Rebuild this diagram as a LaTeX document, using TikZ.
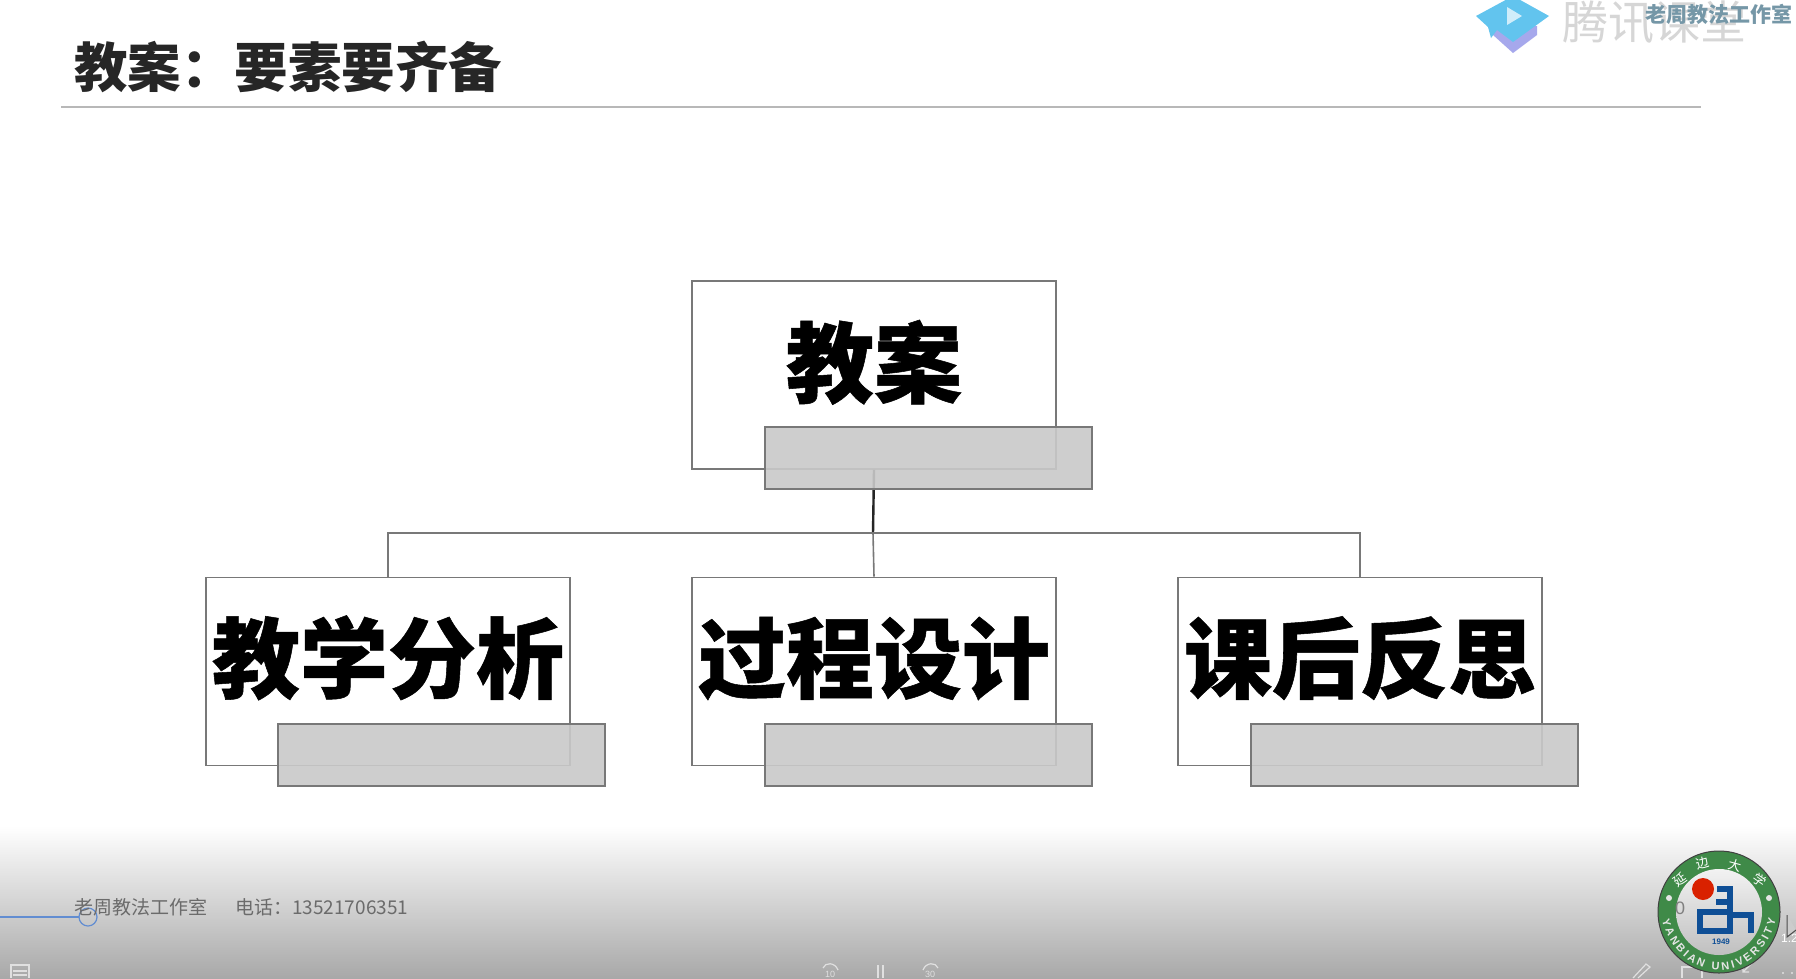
\documentclass[tikz,border=0pt]{standalone}
\usepackage{fontspec}
\usepackage{tikz}
\usetikzlibrary{decorations.text}
\newfontfamily\cjk{Noto Sans CJK SC}
\newfontfamily\cjkheavy[BoldFeatures={FakeBold=0.6}]{Noto Sans CJK SC}
\setmainfont{Liberation Sans}
\def \boxw{364pt}
\def \boxh{188pt}
\def \wide{\symbol{"FF1A}}
\definecolor{edgegray}{HTML}{787878}
\definecolor{sealgreen}{HTML}{3F8A48}
\definecolor{sealblue}{HTML}{0F4F96}
\definecolor{hatblue}{HTML}{62C4EE}
\definecolor{hatviolet}{HTML}{A6A8EC}
\tikzset{
  planbox/.style={draw=edgegray, line width=1.6pt, fill=white, inner sep=0pt, minimum width=\boxw,
    text height=115pt, text depth=73pt, font=\cjkheavy\bfseries\fontsize{88}{88}\selectfont},
  lowbox/.style={planbox, text height=114pt, text depth=74pt},
  notebox/.style={draw=edgegray, line width=2pt, fill={rgb,255:red,201;green,201;blue,201}, fill opacity=.9,
    inner sep=0pt, minimum width=327pt, minimum height=62pt},
  link/.style={draw=edgegray, line width=1.6pt},
  barmark/.style={draw=white!88!black, line width=1.2pt},
}

\begin{document}
\begin{tikzpicture}[x=1pt, y=-1pt]
    \useasboundingbox (0, 0) rectangle (1796, 978);
    \clip (0, 0) rectangle (1796, 978);
    \fill[white] (0, 0) rectangle (1796, 978);
    % page head
    \node[anchor=west, inner sep=0pt, font=\cjk\bfseries\fontsize{53.5}{53.5}\selectfont, text=black!85] (Title) at (74, 67) {教案\wide 要素要齐备};
    \draw[black!28, line width=1.6pt] (61, 107) -- (1701, 107);
    % player logo
    \fill[hatviolet] (1493, 35) -- (1513, 53) -- (1537, 35) -- (1537, 26) -- (1493, 26) -- cycle;
    \fill[hatblue] (1476, 16) -- (1513, -4) -- (1549, 16) -- (1513, 42) -- (1497, 30) -- (1491, 38) -- (1488, 27) -- cycle;
    \fill[white!70!hatblue] (1507, 7) -- (1522, 16) -- (1507, 25) -- cycle;
    \node[inner sep=0pt, text=black!16, font=\cjk\fontsize{46}{46}\selectfont] (Brand) at (1654, 22) {腾讯课堂};
    \node[inner sep=0pt, text=cyan!45!black!70, font=\cjk\bfseries\fontsize{21}{21}\selectfont] (Mark) at (1719, 14) {老周教法工作室};
    % tree
    \coordinate (Fork) at (873, 533);
    \node[planbox, minimum height=\boxh] (Plan) at (874, 375) {教案};
    \node[lowbox, minimum height=\boxh] (Study) at (388, 671.5) {教学分析};
    \node[lowbox, minimum height=\boxh] (Design) at (874, 671.5) {过程设计};
    \node[lowbox, minimum height=\boxh] (Review) at (1360, 671.5) {课后反思};
    \path[draw=black!85, line width=2.4pt] (Plan.south) -- (Fork);
    \path[link] (Fork) -| (Study.north);
    \path[link] (Fork) -- (Design.north);
    \path[link] (Fork) -| (Review.north);
    \node[notebox] (PlanNote) at (928.5, 458) {};
    \node[notebox] (StudyNote) at (441.5, 755) {};
    \node[notebox] (DesignNote) at (928.5, 755) {};
    \node[notebox] (ReviewNote) at (1414.5, 755) {};
    % player bar
    \shade[top color=white, middle color=black!20, bottom color=black!34] (0, 826) rectangle (1796, 978);
    \draw[white!80!black, line width=1.4pt] (88, 917) -- (1796, 917);
    \draw[cyan!45!blue!65, line width=1.4pt] (0, 917) -- (79, 917);
    \draw[cyan!45!blue!65, line width=1.2pt] (88, 917) circle (9);
    \node[anchor=west, inner sep=0pt, text=black!58, font=\cjk\fontsize{19}{19}\selectfont] (Studio) at (74, 907) {老周教法工作室};
    \node[anchor=west, inner sep=0pt, text=black!58, font=\cjk\fontsize{19}{19}\selectfont] (Phone) at (235, 907) {电话\wide 13521706351};
    % controls
    \draw[barmark] (11, 978) -- (11, 965) -- (29, 965) -- (29, 978) (13, 971) -- (27, 971) (13, 975) -- (27, 975);
    \draw[barmark] (823, 968) .. controls (825, 962) and (835, 962) .. (838, 970);
    \node[text=white!88!black, inner sep=0pt, font=\fontsize{9}{9}\selectfont] (Back) at (830, 974) {10};
    \draw[barmark] (878, 965) -- (878, 978) (883, 965) -- (883, 978);
    \draw[barmark] (923, 970) .. controls (926, 962) and (936, 962) .. (938, 968);
    \node[text=white!88!black, inner sep=0pt, font=\fontsize{9}{9}\selectfont] (Ahead) at (930, 974) {30};
    \draw[barmark] (1633, 978) -- (1646, 964) -- (1650, 967) -- (1638, 978);
    \draw[barmark] (1682, 978) -- (1682, 967) -- (1702, 967) -- (1702, 978);
    \draw[barmark] (1752, 963) -- (1743, 972) (1743, 966) -- (1743, 972) -- (1749, 972);
    \fill[white!88!black] (1783, 973) circle (1.2) (1792, 973) circle (1.2);
    % seal
    \draw[fill=sealgreen, draw=black!75, line width=1pt] (1719, 912) circle (61);
    \shade[top color=black!5, bottom color=black!25] (1719, 912) circle (43);
    \fill[red!70!orange!85!black] (1703, 889) circle (11);
    \draw[sealblue, line width=6pt] (1717, 889) -- (1730, 889) -- (1730, 912) -- (1700, 912) -- (1700, 931) -- (1730, 931) -- (1730, 915) -- (1751, 915) -- (1751, 933);
    \draw[sealblue, line width=6pt] (1716, 902) -- (1730, 902);
    \node[text=sealblue, inner sep=0pt, font=\bfseries\fontsize{8}{8}\selectfont] (Year) at (1721, 942) {1949};
    \node[text=black!50, inner sep=0pt, font=\fontsize{18}{18}\selectfont] (Zero) at (1680, 908) {0};
    \path[decorate, decoration={text along path, text align={fit to path}, text={|\color{white!90!black}\bfseries\fontsize{11}{11}\selectfont|YANBIAN UNIVERSITY}}]
      (1662, 920) .. controls (1680, 987) and (1758, 987) .. (1776, 920);
    \node[text=white, rotate=35, inner sep=0pt, font=\cjk\fontsize{13}{13}\selectfont] (SealA) at (1680, 880) {延};
    \node[text=white, rotate=15, inner sep=0pt, font=\cjk\fontsize{13}{13}\selectfont] (SealB) at (1703, 863) {边};
    \node[text=white, rotate=-15, inner sep=0pt, font=\cjk\fontsize{13}{13}\selectfont] (SealC) at (1735, 865) {大};
    \node[text=white, rotate=-35, inner sep=0pt, font=\cjk\fontsize{13}{13}\selectfont] (SealD) at (1760, 880) {学};
    \fill[white!90!black] (1669, 898) circle (3) (1769, 898) circle (3);
    % pointer
    \draw[black!70, fill=white!80!black, line width=1pt] (1787, 915) -- (1787, 937) -- (1796, 930);
    \node[text=white, anchor=west, inner sep=0pt, font=\fontsize{12}{12}\selectfont] (Rate) at (1781, 938) {1.2};
\end{tikzpicture}
\end{document}
